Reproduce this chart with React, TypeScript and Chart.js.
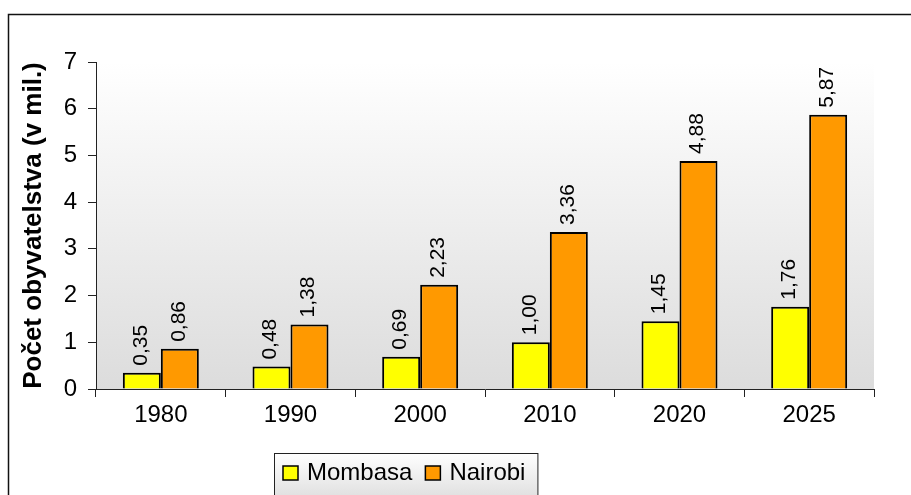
import React, { useEffect, useRef } from "react";
import { Chart, registerables } from "chart.js";

Chart.register(...registerables);

const categories = ["1980", "1990", "2000", "2010", "2020", "2025"];
const mombasa = [0.35, 0.48, 0.69, 1.0, 1.45, 1.76];
const nairobi = [0.86, 1.38, 2.23, 3.36, 4.88, 5.87];
const seriesNames = ["Mombasa", "Nairobi"];
const seriesColors = ["#FFFF00", "#FF9900"];
const yTitle = "Počet obyvatelstva (v mil.)";
const FONT = "'Liberation Sans', Arial, Helvetica, sans-serif";

const fmt = (v: number) => v.toFixed(2).replace(".", ",");

const framePlugin = {
  id: "frame",
  beforeDraw(chart: any) {
    const { ctx, chartArea } = chart;
    ctx.save();
    ctx.fillStyle = "#ffffff";
    ctx.fillRect(0, 0, chart.width, chart.height);
    ctx.strokeStyle = "#111";
    ctx.lineWidth = 1.5;
    ctx.strokeRect(8.5, 14.5, chart.width + 50, chart.height + 50);
    const g = ctx.createLinearGradient(0, chartArea.top, 0, chartArea.bottom);
    g.addColorStop(0, "#ffffff");
    g.addColorStop(1, "#dcdcdc");
    ctx.fillStyle = g;
    ctx.fillRect(chartArea.left, chartArea.top, chartArea.right - chartArea.left, chartArea.bottom - chartArea.top);
    ctx.restore();
  },
};

const labelPlugin = {
  id: "vlabels",
  afterDatasetsDraw(chart: any) {
    const { ctx } = chart;
    ctx.save();
    ctx.fillStyle = "#000";
    ctx.font = `21px ${FONT}`;
    ctx.textAlign = "left";
    ctx.textBaseline = "middle";
    chart.data.datasets.forEach((ds: any, di: number) => {
      const meta = chart.getDatasetMeta(di);
      meta.data.forEach((bar: any, i: number) => {
        ctx.save();
        ctx.translate(bar.x - 1, bar.y - 7);
        ctx.rotate(-Math.PI / 2);
        ctx.fillText(fmt(ds.data[i]), 0, 0);
        ctx.restore();
      });
    });
    ctx.restore();
  },
};

const legendPlugin = {
  id: "customLegend",
  afterDraw(chart: any) {
    const { ctx } = chart;
    ctx.save();
    ctx.font = `24px ${FONT}`;
    const left = 274;
    const top = 453;
    const pad = 9;
    const box = 15;
    const gapText = 9;
    const gapItem = 13;
    let w = pad;
    const widths = seriesNames.map((n) => ctx.measureText(n).width);
    widths.forEach((tw, i) => {
      w += box + gapText + tw + (i < widths.length - 1 ? gapItem : 0);
    });
    w += 12;
    const h = 70;
    const g = ctx.createLinearGradient(0, top, 0, top + 50);
    g.addColorStop(0, "#ffffff");
    g.addColorStop(1, "#dcdcdc");
    ctx.fillStyle = g;
    ctx.fillRect(left, top, w, h);
    ctx.strokeStyle = "#222";
    ctx.lineWidth = 1;
    ctx.strokeRect(left + 0.5, top + 0.5, w, h);
    let x = left + pad;
    const cy = 473;
    seriesNames.forEach((n, i) => {
      ctx.fillStyle = seriesColors[i];
      ctx.fillRect(x, cy - 7, box, box - 1);
      ctx.strokeStyle = "#000";
      ctx.lineWidth = 1.5;
      ctx.strokeRect(x, cy - 7, box, box - 1);
      ctx.fillStyle = "#000";
      ctx.textAlign = "left";
      ctx.textBaseline = "middle";
      ctx.fillText(n, x + box + gapText, cy);
      x += box + gapText + widths[i] + gapItem;
    });
    ctx.restore();
  },
};

export default function App() {
  const ref = useRef<HTMLCanvasElement | null>(null);
  useEffect(() => {
    if (!ref.current) return;
    const chart = new Chart(ref.current, {
      type: "bar",
      data: {
        labels: categories,
        datasets: [
          {
            label: seriesNames[0],
            data: mombasa,
            backgroundColor: seriesColors[0],
            borderColor: "#000",
            borderWidth: 2,
            categoryPercentage: 0.586,
            barPercentage: 1.0,
          },
          {
            label: seriesNames[1],
            data: nairobi,
            backgroundColor: seriesColors[1],
            borderColor: "#000",
            borderWidth: 2,
            categoryPercentage: 0.586,
            barPercentage: 1.0,
          },
        ],
      },
      options: {
        responsive: false,
        maintainAspectRatio: false,
        animation: false,
        layout: { padding: { left: 0, right: 37, top: 62, bottom: 46 } },
        plugins: {
          legend: { display: false },
          tooltip: { enabled: false },
        },
        scales: {
          x: {
            grid: {
              display: true,
              drawOnChartArea: false,
              drawTicks: true,
              tickLength: 8,
              color: "#222",
              offset: true,
            },
            border: { display: true, color: "#222", width: 1 },
            ticks: {
              font: { size: 24, family: FONT },
              color: "#000",
              padding: 4,
              maxRotation: 0,
              autoSkip: false,
            },
            afterFit: (s: any) => {
              s.height = 60;
            },
          },
          y: {
            min: 0,
            max: 7,
            ticks: {
              stepSize: 1,
              font: { size: 24, family: FONT },
              color: "#000",
              padding: 11,
            },
            grid: {
              drawOnChartArea: false,
              tickLength: 8,
              color: "#222",
            },
            border: { display: true, color: "#222", width: 1 },
            title: {
              display: true,
              text: yTitle,
              font: { size: 26, weight: "bold", family: FONT },
              color: "#000",
              padding: { top: 18, bottom: 0 },
            },
            afterFit: (s: any) => {
              s.width = 96;
            },
          },
        },
      } as any,
      plugins: [framePlugin, labelPlugin, legendPlugin],
    });
    return () => chart.destroy();
  }, []);
  return (
    <div style={{ position: "absolute", left: 0, top: 0, width: 911, height: 495 }}>
      <canvas ref={ref} width={911} height={495} style={{ display: "block", width: 911, height: 495 }} />
    </div>
  );
}
